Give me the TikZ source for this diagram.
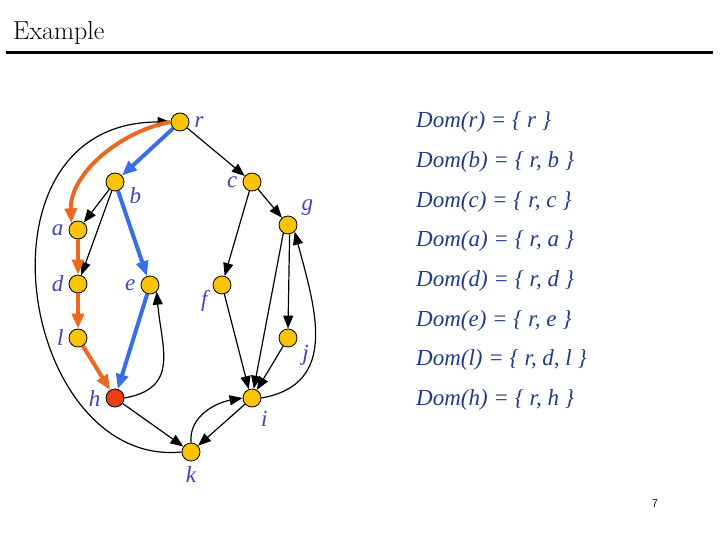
\documentclass[tikz,border=0pt]{standalone}
\usepackage{fontspec}
\newfontfamily\domfont{Liberation Serif}
\usetikzlibrary{arrows.meta}

\definecolor{vtxfill}{RGB}{250,196,0}
\definecolor{hfill}{RGB}{240,60,16}
\definecolor{lblblue}{RGB}{64,64,192}
\definecolor{domblue}{RGB}{31,60,136}
\definecolor{pathorange}{RGB}{235,105,30}
\definecolor{pathblue}{RGB}{58,110,232}

\tikzset{
	vtx/.style = {circle, draw = black, line width = 0.8pt, fill = vtxfill, minimum size = 18pt, inner sep = 0pt},
	lbl/.style = {text = lblblue, font = \domfont\itshape\fontsize{23}{26}\selectfont, inner sep = 5pt},
	dom/.style = {text = domblue, font = \domfont\itshape\fontsize{23}{27}\selectfont, inner sep = 0pt},
	edge/.style = {line width = 1.2pt, -{Triangle[length=13pt,width=10pt]}},
	orpath/.style = {pathorange, line width = 4pt, -{Triangle[length=15pt,width=12pt]}},
	blpath/.style = {pathblue, line width = 4pt, -{Triangle[length=15pt,width=12pt]}}
}

\begin{document}
\begin{tikzpicture}[x = 1pt, y = -1pt]
		\useasboundingbox (0,0) rectangle (720,540);
		\node [anchor = base west, inner sep = 0pt, font = \fontsize{26}{30}\selectfont] (title) at (13,40) {Example};
		\draw [line width = 3pt] (6,53) -- (713,53);
		% vertices
		\node [vtx, label = {[lbl]right:r}] (r) at (180,122) {};
		\node [vtx, label = {[lbl]-3:b}] (b) at (115,182) {};
		\node [vtx, label = {[lbl]left:c}] (c) at (252,182) {};
		\node [vtx, label = {[lbl]25:g}] (g) at (288,225) {};
		\node [vtx, label = {[lbl]left:a}] (a) at (78,230) {};
		\node [vtx, label = {[lbl]left:d}] (d) at (78,284) {};
		\node [vtx, label = {[lbl]left:e}] (e) at (150,285) {};
		\node [vtx, label = {[lbl]-177:f}] (f) at (222,285) {};
		\node [vtx, label = {[lbl]left:l}] (l) at (78,338) {};
		\node [vtx, label = {[lbl]-10:j}] (j) at (288,338) {};
		\node [vtx, fill = hfill, label = {[lbl]-178:h}] (h) at (115,398) {};
		\node [vtx, label = {[lbl]-65:i}] (i) at (252,398) {};
		\node [vtx, label = {[lbl]below:k}] (k) at (191,452) {};
		% edges
		\draw [edge] (r) -- (c);
		\draw [edge] (b) -- (a);
		\draw [edge] (b) -- (d);
		\draw [edge] (c) -- (f);
		\draw [edge] (c) -- (g);
		\draw [edge] (g.-120) -- (i);
		\draw [edge] (g.-80) -- (j.north);
		\draw [edge] (f) -- (i.110);
		\draw [edge] (j) -- (i);
		\draw [edge] (h) -- (k);
		\draw [edge] (i) -- (k);
		\draw [edge] (k.west) .. controls (20,468) and (-35,122) .. (r.west);
		\draw [edge] (h.east) to [out = 10, in = -85, looseness = 1.3] (e.south east);
		\draw [edge] (k.north) to [out = 95, in = 190] (i.west);
		\draw [edge] (i.east) to [out = 10, in = -75, looseness = 1.2] (g.south east);
		% dominator paths
		\draw [orpath] (r.west) to [out = 190, in = 92, looseness = 0.9] (a.north west);
		\draw [orpath] (a) -- (d);
		\draw [orpath] (d) -- (l);
		\draw [orpath] (l) -- (h);
		\draw [blpath] (r) -- (b);
		\draw [blpath] (b) -- (e);
		\draw [blpath] (e) -- (h);
		% dominator sets
		\foreach \v/\s [count = \n] in {r/r, b/{r, b}, c/{r, c}, a/{r, a}, d/{r, d}, e/{r, e}, l/{r, d, l}, h/{r, h}}
			\node [dom, anchor = base west] (dom\v) at (416,{128+39.6*(\n-1)}) {Dom(\v) = \{ \s{} \}};
		\node [font = \sffamily\fontsize{12}{14}\selectfont] (pagenum) at (655,504) {7};
	\end{tikzpicture}
\end{document}
